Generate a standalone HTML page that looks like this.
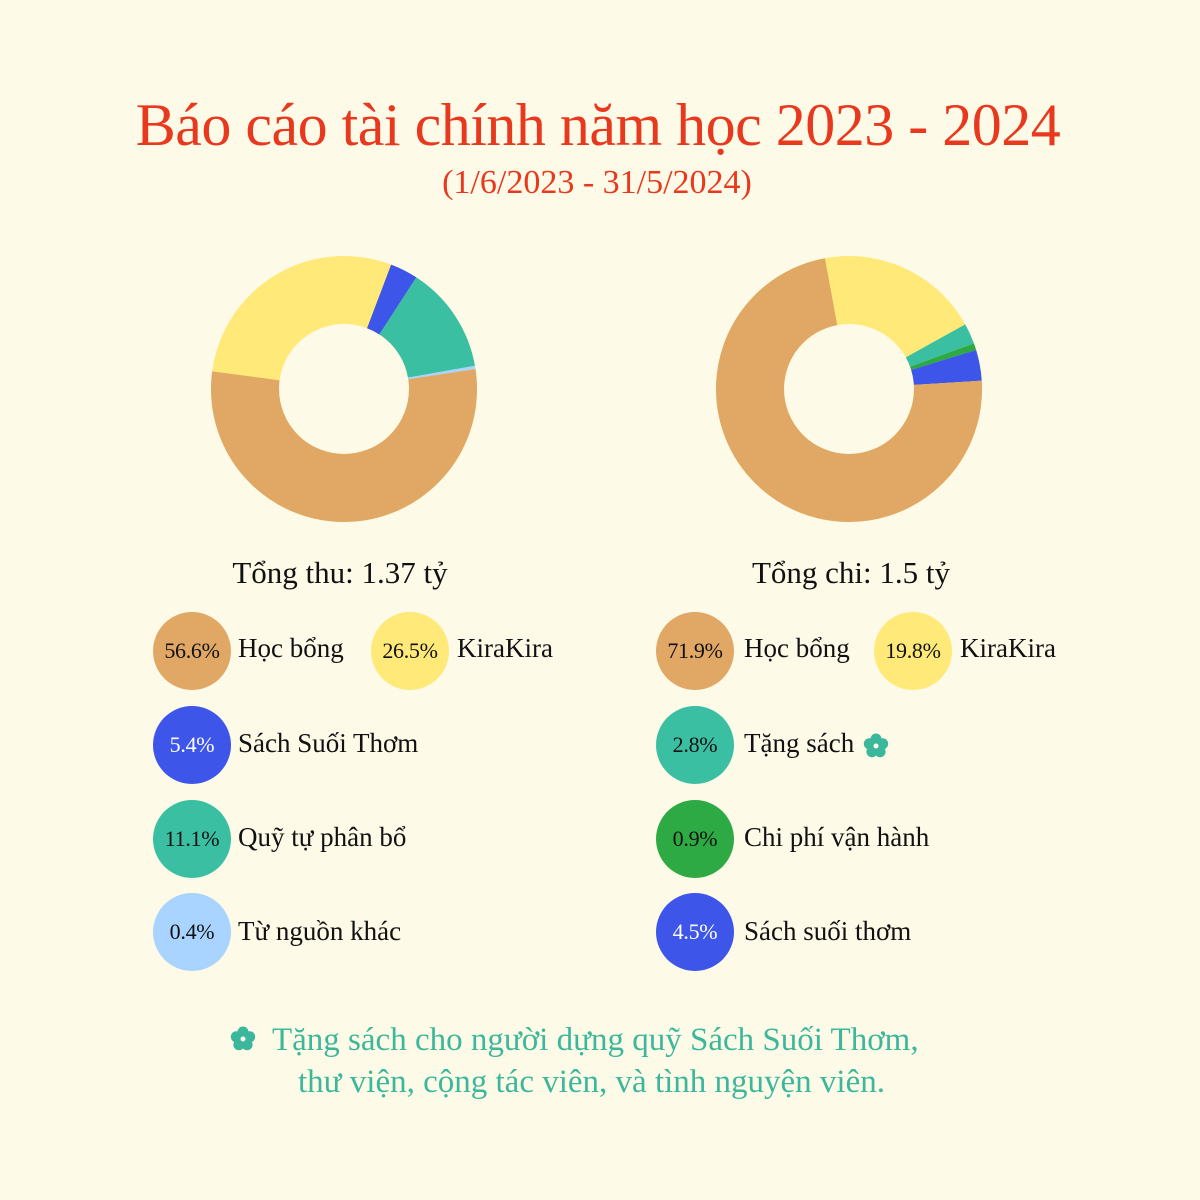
<!DOCTYPE html>
<html><head><meta charset="utf-8"><style>
html,body{margin:0;padding:0;background:#FEFAE8;}
svg{display:block}
text{font-family:"Liberation Serif","Noto Serif CJK SC",serif;}
</style></head><body>
<svg width="1200" height="1200" viewBox="0 0 1200 1200">
<rect width="1200" height="1200" fill="#FEFAE8"/>
<text x="598" y="145" text-anchor="middle" font-size="60" fill="#E8391E" letter-spacing="-0.5">Báo cáo tài chính năm học 2023 - 2024</text>
<text x="597" y="193" text-anchor="middle" font-size="34" fill="#E8391E">(1/6/2023 - 31/5/2024)</text>

<g transform="rotate(-90 344 389)" fill="none" stroke-width="68">
<circle cx="344" cy="389" r="99" stroke="#FFE978"/>
<circle cx="344" cy="389" r="99" pathLength="360" stroke="#3D55E8" stroke-dasharray="12.2 400" stroke-dashoffset="-20.8"/>
<circle cx="344" cy="389" r="99" pathLength="360" stroke="#3BBFA3" stroke-dasharray="47 400" stroke-dashoffset="-33"/>
<circle cx="344" cy="389" r="99" pathLength="360" stroke="#A8D4FF" stroke-dasharray="1.5 400" stroke-dashoffset="-80"/>
<circle cx="344" cy="389" r="99" pathLength="360" stroke="#E0A864" stroke-dasharray="196.5 400" stroke-dashoffset="-81.5"/>
</g>
<g transform="rotate(-90 849 389)" fill="none" stroke-width="68">
<circle cx="849" cy="389" r="99" stroke="#FFE978"/>
<circle cx="849" cy="389" r="99" pathLength="360" stroke="#3BBFA3" stroke-dasharray="9 400" stroke-dashoffset="-61"/>
<circle cx="849" cy="389" r="99" pathLength="360" stroke="#2EAA44" stroke-dasharray="3 400" stroke-dashoffset="-70"/>
<circle cx="849" cy="389" r="99" pathLength="360" stroke="#3D55E8" stroke-dasharray="13.5 400" stroke-dashoffset="-73"/>
<circle cx="849" cy="389" r="99" pathLength="360" stroke="#E0A864" stroke-dasharray="263.5 400" stroke-dashoffset="-86.5"/>
</g>

<g font-size="31" fill="#111" text-anchor="middle">
<text x="340" y="583">Tổng thu: 1.37 tỷ</text>
<text x="851" y="583">Tổng chi: 1.5 tỷ</text>
</g>

<g font-size="22" fill="#111" text-anchor="middle" letter-spacing="-0.3">
<circle cx="192" cy="651" r="39" fill="#E0A864"/><text x="192" y="658">56.6%</text>
<circle cx="410" cy="651" r="39" fill="#FFE978"/><text x="410" y="658">26.5%</text>
<circle cx="192" cy="745" r="39" fill="#3D55E8"/><text x="192" y="752" fill="#fff">5.4%</text>
<circle cx="192" cy="839" r="39" fill="#3BBFA3"/><text x="192" y="846">11.1%</text>
<circle cx="192" cy="932" r="39" fill="#A8D4FF"/><text x="192" y="939">0.4%</text>
<circle cx="695" cy="651" r="39" fill="#E0A864"/><text x="695" y="658">71.9%</text>
<circle cx="913" cy="651" r="39" fill="#FFE978"/><text x="913" y="658">19.8%</text>
<circle cx="695" cy="745" r="39" fill="#3BBFA3"/><text x="695" y="752">2.8%</text>
<circle cx="695" cy="839" r="39" fill="#2EAA44"/><text x="695" y="846">0.9%</text>
<circle cx="695" cy="932" r="39" fill="#3D55E8"/><text x="695" y="939" fill="#fff">4.5%</text>
</g>

<g font-size="27" fill="#111">
<text x="238" y="657">Học bổng</text>
<text x="457" y="657">KiraKira</text>
<text x="238" y="752">Sách Suối Thơm</text>
<text x="238" y="846">Quỹ tự phân bổ</text>
<text x="238" y="940">Từ nguồn khác</text>
<text x="744" y="657">Học bổng</text>
<text x="960" y="657">KiraKira</text>
<text x="744" y="752">Tặng sách</text>
<text x="744" y="846">Chi phí vận hành</text>
<text x="744" y="940">Sách suối thơm</text>
</g>

<defs>
<g id="fl">
<circle cx="0" cy="-7" r="5.5"/><circle cx="6.7" cy="-2.2" r="5.5"/><circle cx="4.1" cy="5.7" r="5.5"/><circle cx="-4.1" cy="5.7" r="5.5"/><circle cx="-6.7" cy="-2.2" r="5.5"/>
</g>
</defs>
<g fill="#3BB89C">
<use href="#fl" transform="translate(876 746)"/>
<use href="#fl" transform="translate(243 1039)"/>
</g>
<circle cx="876" cy="746" r="2.5" fill="#FEFAE8"/>
<circle cx="243" cy="1039" r="2.5" fill="#FEFAE8"/>

<g font-size="33" fill="#3BB89C">
<text x="272" y="1050">Tặng sách cho người dựng quỹ Sách Suối Thơm,</text>
<text x="298" y="1092">thư viện, cộng tác viên, và tình nguyện viên.</text>
</g>
</svg>
</body></html>
